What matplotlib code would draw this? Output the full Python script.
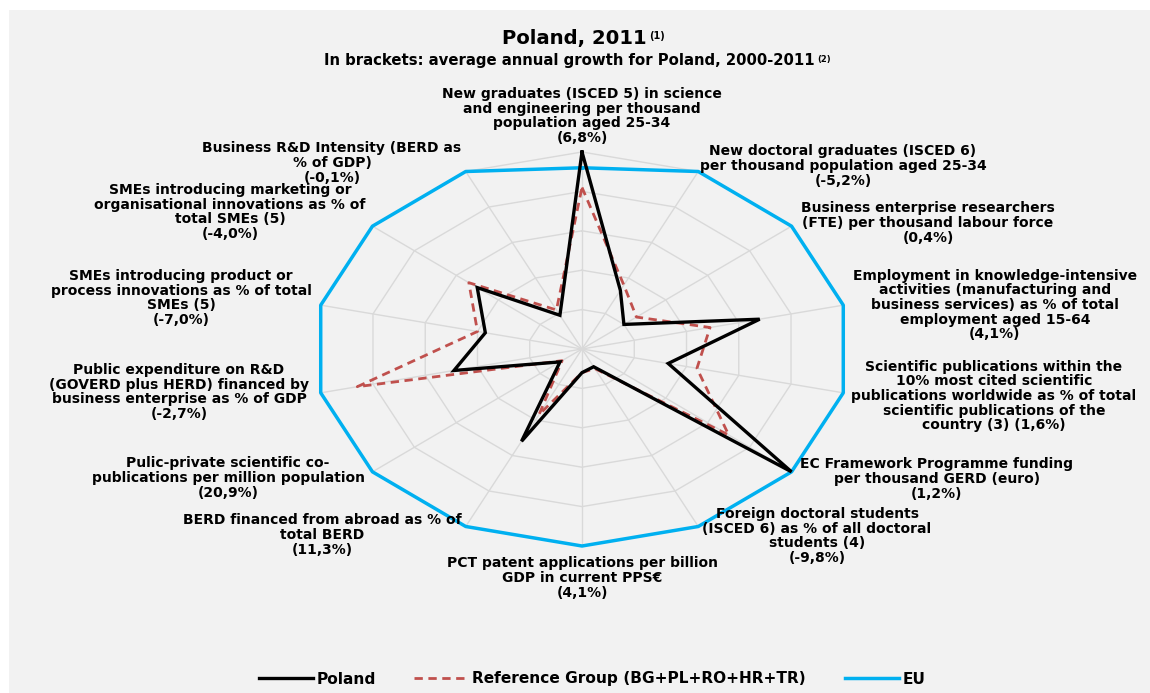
import numpy as np
import matplotlib
matplotlib.use("Agg")
import matplotlib.pyplot as plt
from matplotlib.patches import Rectangle


# indicator labels, clockwise from the top
labels = [
    "New graduates (ISCED 5) in science\nand engineering per thousand\npopulation aged 25-34\n(6,8%)",
    "New doctoral graduates (ISCED 6)\nper thousand population aged 25-34\n(-5,2%)",
    "Business enterprise researchers\n(FTE) per thousand labour force\n(0,4%)",
    "Employment in knowledge-intensive\nactivities (manufacturing and\nbusiness services) as % of total\nemployment aged 15-64\n(4,1%)",
    "Scientific publications within the\n10% most cited scientific\npublications worldwide as % of total\nscientific publications of the\ncountry (3) (1,6%)",
    "EC Framework Programme funding\nper thousand GERD (euro)\n(1,2%)",
    "Foreign doctoral students\n(ISCED 6) as % of all doctoral\nstudents (4)\n(-9,8%)",
    "PCT patent applications per billion\nGDP in current PPS€\n(4,1%)",
    "BERD financed from abroad as % of\ntotal BERD\n(11,3%)",
    "Pulic-private scientific co-\npublications per million population\n(20,9%)",
    "Public expenditure on R&D\n(GOVERD plus HERD) financed by\nbusiness enterprise as % of GDP\n(-2,7%)",
    "SMEs introducing product or\nprocess innovations as % of total\nSMEs (5)\n(-7,0%)",
    "SMEs introducing marketing or\norganisational innovations as % of\ntotal SMEs (5)\n(-4,0%)",
    "Business R&D Intensity (BERD as\n% of GDP)\n(-0,1%)",
]

# values relative to the EU (EU = 1)
poland = [1.00, 0.33, 0.20, 0.68, 0.33, 1.00, 0.10,
          0.12, 0.52, 0.105, 0.49, 0.37, 0.50, 0.19]
ref_group = [0.82, 0.36, 0.26, 0.49, 0.44, 0.70, 0.11,
             0.12, 0.37, 0.095, 0.86, 0.40, 0.54, 0.22]
eu = [0.92, 1.0, 1.0, 1.0, 1.0, 1.0, 1.0,
      1.0, 1.0, 1.0, 1.0, 1.0, 1.0, 1.0]

grid_levels = [0.2, 0.4, 0.6, 0.8, 1.0]

# label anchor positions in pixels (x from left, y from top)
label_pos = [
    (582, 116), (843, 166), (928, 223), (995, 305), (994, 396),
    (937, 479), (817, 536), (582, 578), (322, 535), (228, 478),
    (179, 392), (181, 298), (230, 212), (332, 163),
]

W, H = 1150, 693
cx, cy = 582, 349        # chart centre, pixels from top
sx, sy = 268, 197        # pixels per unit, horizontal / vertical


def px(x, y):
    return x / W, 1 - y / H


def to_xy(values):
    n = len(values)
    ang = np.pi / 2 - 2 * np.pi * np.arange(n) / n
    v = np.asarray(values, dtype=float)
    x = v * np.cos(ang)
    y = v * np.sin(ang)
    return np.append(x, x[0]), np.append(y, y[0])


def add_sup(fig, base, text, y, size):
    # small superscript note placed just after a title line
    fig.canvas.draw()
    bb = base.get_window_extent(fig.canvas.get_renderer())
    fig.text(*px(bb.x1 + 3, y), text, ha="left", va="baseline",
             fontsize=size, fontweight="bold")


def main():
    plt.rcParams["font.family"] = ["DejaVu Sans"]

    fig = plt.figure(figsize=(W / 100, H / 100), dpi=100, facecolor="white")
    fig.patches.append(
        Rectangle((9 / W, 0), 1, 1 - 10 / H, transform=fig.transFigure,
                  facecolor="#f2f2f2", edgecolor="none", zorder=-10)
    )

    lim = 1.08
    ax = fig.add_axes([
        (cx - lim * sx) / W,
        (H - cy - lim * sy) / H,
        2 * lim * sx / W,
        2 * lim * sy / H,
    ])
    ax.set_xlim(-lim, lim)
    ax.set_ylim(-lim, lim)
    ax.set_axis_off()
    ax.patch.set_visible(False)

    n = len(labels)
    ang = np.pi / 2 - 2 * np.pi * np.arange(n) / n

    # web grid
    for lev in grid_levels:
        gx, gy = to_xy([lev] * n)
        ax.plot(gx, gy, color="#d9d9d9", lw=1, zorder=1)
    for a in ang:
        ax.plot([0, np.cos(a)], [0, np.sin(a)], color="#d9d9d9", lw=1, zorder=1)

    ex, ey = to_xy(eu)
    ax.plot(ex, ey, color="#00b0f0", lw=2.5, zorder=2, label="EU")
    rx, ry = to_xy(ref_group)
    ax.plot(rx, ry, color="#c0504d", lw=2, ls=(0, (3, 2)), zorder=3,
            label="Reference Group (BG+PL+RO+HR+TR)")
    plx, ply = to_xy(poland)
    ax.plot(plx, ply, color="black", lw=2.4, zorder=4, label="Poland",
            solid_joinstyle="miter")

    for text, (lx, ly) in zip(labels, label_pos):
        fig.text(*px(lx, ly), text, ha="center", va="center",
                 fontsize=10, fontweight="bold", linespacing=1.05)

    # titles
    title = fig.text(*px(574, 44), "Poland, 2011", ha="center",
                     va="baseline", fontsize=14.1, fontweight="bold")
    subtitle = fig.text(*px(569, 65),
                        "In brackets: average annual growth for Poland, 2000-2011",
                        ha="center", va="baseline", fontsize=10.7,
                        fontweight="bold")
    add_sup(fig, title, "(1)", 39, 7)
    add_sup(fig, subtitle, "(2)", 62, 6)

    handles, leg_labels = ax.get_legend_handles_labels()
    order = [2, 1, 0]
    fig.legend([handles[i] for i in order], [leg_labels[i] for i in order],
               loc="center", bbox_to_anchor=px(592, 679), ncol=3,
               frameon=False, handlelength=3.5,
               columnspacing=2.5, handletextpad=0.25,
               prop={"weight": "bold", "size": 11.1})

    fig.savefig("out.png", dpi=100, facecolor=fig.get_facecolor())


if __name__ == "__main__":
    main()
